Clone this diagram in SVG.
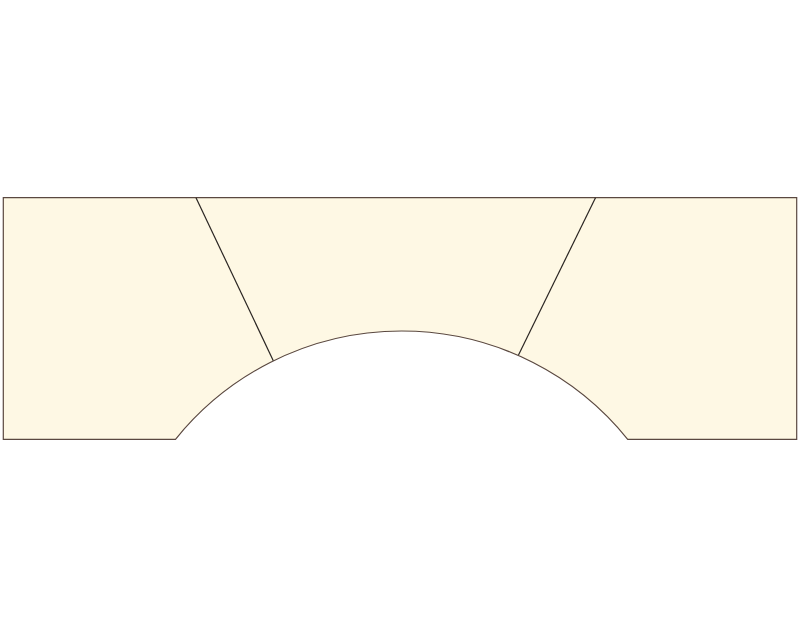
<svg xmlns="http://www.w3.org/2000/svg" width="800" height="638" viewBox="0 0 800 638">
<style>
.shape{fill:#fef8e4;stroke:#5a4840;stroke-width:1.2;stroke-linejoin:miter}
.div{fill:none;stroke:#2a2522;stroke-width:1.2}
</style>
<g id="arch">
<path class="shape" d="M3.3,197.7 L796.7,197.7 L796.7,439.3 L627.7,439.3 A290.2,290.2 0 0 0 175.5,439.3 L3.3,439.3 Z"/>
</g>
<g id="dividers">
<line class="div" x1="196" y1="197.7" x2="273.3" y2="360.7"/>
<line class="div" x1="595.5" y1="197.7" x2="518.5" y2="355"/>
</g>
</svg>
